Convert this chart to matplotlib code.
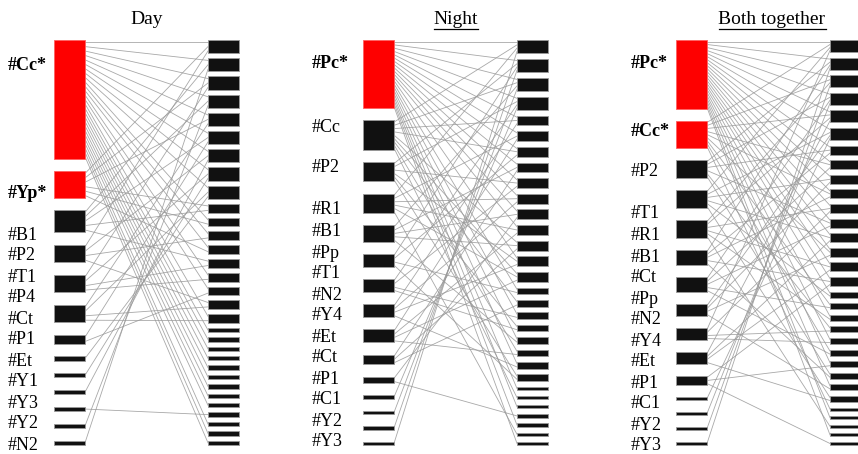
import matplotlib.pyplot as plt
from matplotlib.patches import Rectangle

# ---- data: left (lower level) nodes, their links to right-side nodes ----
day_names = ["#Cc*", "#Yp*", "#B1", "#P2", "#T1", "#P4", "#Ct", "#P1",
             "#Et", "#Y1", "#Y3", "#Y2", "#N2"]
day_red = [True, True] + [False] * 11
day_links = [
    [0, 1, 2, 3, 4, 5, 6, 7, 8, 10, 11, 12, 14, 15, 17,
     18, 19, 20, 21, 22, 23, 24, 25, 26, 28, 29, 30],
    [0, 2, 4, 9, 10, 12],
    [1, 3, 5, 9, 13],
    [0, 6, 11, 16],
    [2, 7, 13, 14],
    [4, 8, 16, 17],
    [5, 15],
    [8], [7], [6], [27], [3], [1],
]
day_label_y = [66, 193, 235, 256, 277, 298, 319, 340, 361, 382, 403, 424, 445]

night_names = ["#Pc*", "#Cc", "#P2", "#R1", "#B1", "#Pp", "#T1", "#N2",
               "#Y4", "#Et", "#Ct", "#P1", "#C1", "#Y2", "#Y3"]
night_red = [True] + [False] * 14
night_links = [
    [0, 1, 2, 3, 4, 5, 6, 7, 8, 9, 10, 11, 13, 15, 17, 19, 21, 23, 25, 27, 29],
    [0, 2, 4, 6, 12, 14, 16, 20, 24],
    [1, 3, 8, 13, 18, 22],
    [0, 5, 9, 11, 14, 28],
    [2, 7, 10, 12, 19],
    [1, 6, 15, 22],
    [3, 8, 17, 18],
    [4, 9, 13, 21],
    [5, 11, 14, 20],
    [7, 12, 16],
    [10, 26],
    [3], [2], [1], [0],
]
night_label_y = [63, 127, 168, 210, 232, 253, 274, 295, 316, 337, 358, 379, 400, 421, 442]

both_names = ["#Pc*", "#Cc*", "#P2", "#T1", "#R1", "#B1", "#Ct", "#Pp",
              "#N2", "#Y4", "#Et", "#P1", "#C1", "#Y2", "#Y3"]
both_red = [True, True] + [False] * 13
both_links = [
    [0, 1, 2, 3, 4, 5, 6, 7, 8, 9, 10, 11, 12, 13, 14, 15,
     16, 18, 20, 22, 24, 27, 29],
    [0, 2, 4, 7, 9, 13, 17, 21, 26],
    [1, 3, 6, 11, 19, 23],
    [0, 5, 8, 12, 16, 25],
    [2, 4, 10, 14, 18, 28],
    [1, 6, 9, 15, 23],
    [3, 7, 11, 17, 21],
    [5, 8, 13, 24],
    [0, 10, 19, 20],
    [4, 12, 14, 25],
    [15, 22, 30],
    [5], [3], [2], [1],
]
both_label_y = [63, 132, 172, 213, 236, 257, 278, 299, 320, 341, 362, 383, 404, 425, 446]

panels = [
    dict(title="Day", under=False, tx=147, names=day_names, red=day_red,
         links=day_links, label_y=day_label_y, label_x=8, lx=54, rx=208, unit=4.4),
    dict(title="Night", under=True, tx=456, names=night_names, red=night_red,
         links=night_links, label_y=night_label_y, label_x=312, lx=363, rx=517, unit=3.25),
    dict(title="Both together", under=True, tx=772, names=both_names, red=both_red,
         links=both_links, label_y=both_label_y, label_x=631, lx=676, rx=830, unit=3.0),
]

TOP, BOTTOM, BOX_W = 40, 445, 31
SERIF = "Liberation Serif"


def stack(weights, unit):
    total = sum(weights) * unit
    gap = (BOTTOM - TOP - total) / (len(weights) - 1)
    out, y = [], TOP
    for w in weights:
        out.append((y, w * unit))
        y += w * unit + gap
    return out


fig = plt.figure(figsize=(8.58, 4.54), dpi=100)
ax = fig.add_axes([0, 0, 1, 1])
ax.set_xlim(0, 858)
ax.set_ylim(454, 0)
ax.axis("off")

for p in panels:
    links = p["links"]
    n_right = max(max(l) for l in links) + 1
    left_w = [len(l) for l in links]
    right_w = [sum(j in l for l in links) for j in range(n_right)]
    left_pos = stack(left_w, p["unit"])
    right_pos = stack(right_w, p["unit"])

    # links: each occupies one unit slot in both boxes
    right_used = [0] * n_right
    for i, l in enumerate(links):
        y0, _ = left_pos[i]
        for k, j in enumerate(sorted(l)):
            ya = y0 + (k + 0.5) * p["unit"]
            yb = right_pos[j][0] + (right_used[j] + 0.5) * p["unit"]
            right_used[j] += 1
            ax.plot([p["lx"] + BOX_W, p["rx"]], [ya, yb], color="0.6",
                    lw=0.6, alpha=0.85, zorder=1)

    for i, (y, h) in enumerate(left_pos):
        fc = "#fe0000" if p["red"][i] else "#111111"
        ax.add_patch(Rectangle((p["lx"], y), BOX_W, h, facecolor=fc,
                               edgecolor="0.6" if not p["red"][i] else "#ff6060",
                               lw=0.6, zorder=2))
    for (y, h) in right_pos:
        ax.add_patch(Rectangle((p["rx"], y), BOX_W, h, facecolor="#111111",
                               edgecolor="0.6", lw=0.6, zorder=2))

    for name, yl, r in zip(p["names"], p["label_y"], p["red"]):
        ax.text(p["label_x"], yl, name, ha="left", va="center", fontsize=13,
                family=SERIF, fontweight="bold" if r else "normal")

    t = ax.text(p["tx"], 20, p["title"], ha="center", va="center",
                fontsize=14, family=SERIF)
    if p["under"]:
        fig.canvas.draw()
        bb = t.get_window_extent().transformed(ax.transData.inverted())
        ax.plot([bb.x0, bb.x1], [29, 29], color="black", lw=0.9)

fig.savefig("out.png", dpi=100)
